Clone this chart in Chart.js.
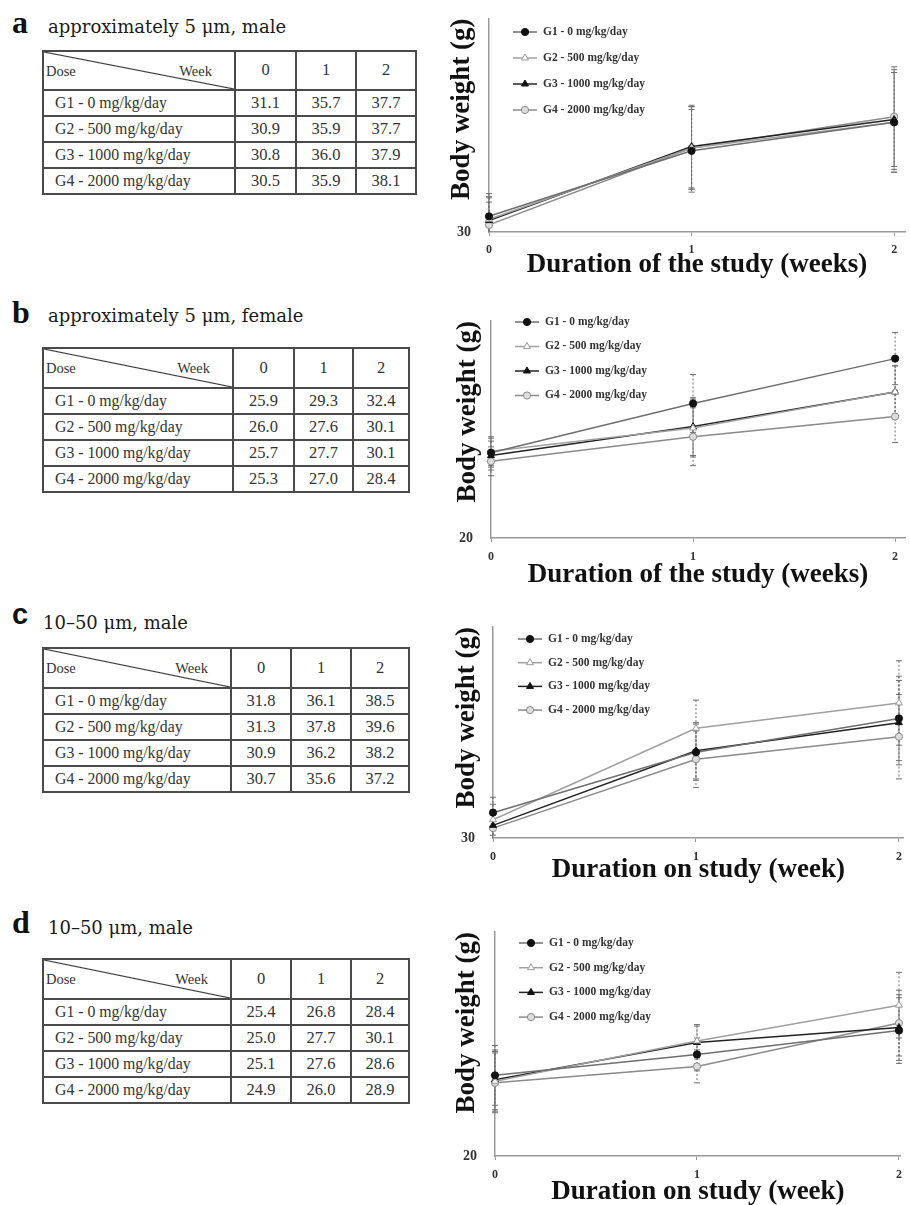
<!DOCTYPE html>
<html><head><meta charset="utf-8">
<script src="https://cdn.jsdelivr.net/npm/chart.js@4.4.1/dist/chart.umd.min.js"></script>
<style>
html,body{margin:0;padding:0;background:#fff;overflow:hidden;}
#page{position:relative;width:910px;height:1205px;overflow:hidden;background:#fff;}
.letter{position:absolute;font-family:'Liberation Serif',serif;font-weight:bold;font-size:32px;line-height:1;color:#111;}
.letter.sans{font-family:'Liberation Sans',sans-serif;font-size:29px;}
.ptitle{position:absolute;font-family:'DejaVu Serif',serif;font-size:18px;line-height:1;color:#1a1a1a;white-space:nowrap;}
table.dt{position:absolute;border-collapse:collapse;font-family:'Liberation Serif',serif;color:#333;table-layout:fixed;}
table.dt td{border:2px solid #4a4a4a;padding:0;text-align:center;font-size:16.5px;line-height:1;}
table.dt td.lab{text-align:left;padding-left:11px;font-size:15.8px;white-space:nowrap;}
table.dt td.hd{position:relative;background:linear-gradient(to top right, transparent calc(50% - 1.1px), #333 50%, transparent calc(50% + 1.1px));}
table.dt td.hd span{position:absolute;top:50%;transform:translateY(-50%);font-size:14.5px;}
table.dt td.hd .dose{left:2px;}
table.dt td.hd .week{right:22px;}
canvas{position:absolute;left:420px;}
</style>
</head><body><div id="page"></div>
<script>
// ---- data ----
const weeks = [0, 1, 2];
const weekLabels = ['0', '1', '2'];
const doseGroups = ['G1 - 0 mg/kg/day', 'G2 - 500 mg/kg/day', 'G3 - 1000 mg/kg/day', 'G4 - 2000 mg/kg/day'];
const panelLetters = ['a', 'b', 'c', 'd'];
const panelTitles = ['approximately 5 \u03bcm, male', 'approximately 5 \u03bcm, female', '10\u201350 \u03bcm, male', '10\u201350 \u03bcm, male'];
const weightsA = [[31.1, 35.7, 37.7], [30.9, 35.9, 37.7], [30.8, 36.0, 37.9], [30.5, 35.9, 38.1]];
const weightsB = [[25.9, 29.3, 32.4], [26.0, 27.6, 30.1], [25.7, 27.7, 30.1], [25.3, 27.0, 28.4]];
const weightsC = [[31.8, 36.1, 38.5], [31.3, 37.8, 39.6], [30.9, 36.2, 38.2], [30.7, 35.6, 37.2]];
const weightsD = [[25.4, 26.8, 28.4], [25.0, 27.7, 30.1], [25.1, 27.6, 28.6], [24.9, 26.0, 28.9]];
const errA = [1.6, 2.9, 3.5];
const errB = [1.0, 2.0, 1.8];
const errC = [1.1, 2.0, 3.0];
const errD = [2.0, 1.1, 2.2];
const yAxisMin = [30, 20, 30, 20];
const yAxisMax = [45, 35, 45, 35];
const yTitle = 'Body weight (g)';
const xTitles = ['Duration of the study (weeks)', 'Duration of the study (weeks)', 'Duration on study (week)', 'Duration on study (week)'];

const weightSets = [weightsA, weightsB, weightsC, weightsD];
const errSets = [errA, errB, errC, errD];

// ---- styles / layout ----
const seriesStyle = [
  {line: '#6f6f6f', shape: 'circle', fill: '#111', stroke: '#111', r: 3.6},
  {line: '#a0a0a0', shape: 'triangle', fill: '#fff', stroke: '#999', r: 4},
  {line: '#222', shape: 'triangle', fill: '#111', stroke: '#111', r: 4},
  {line: '#8a8a8a', shape: 'circle', fill: '#ddd', stroke: '#888', r: 3.6}
];
const layouts = [
  {letter: {x: 12, y: 6}, title: {x: 48, y: 18}, table: {x: 42, y: 50, cols: [192, 61, 60, 60], hh: 39},
   chart: {top: 0, plotTop: 14, plotBottom: 232, plotLeft: 489, week2: 899, xTitleY: 265, xTickY: 250, yTitleX: 462, leg: {x: 513, y: 32, gap: 26}}},
  {letter: {x: 12, y: 296}, title: {x: 48, y: 307}, table: {x: 42, y: 347, cols: [190, 61, 59, 56], hh: 40},
   chart: {top: 290, plotTop: 321, plotBottom: 538, plotLeft: 491, week2: 900, xTitleY: 575, xTickY: 557, yTitleX: 468, leg: {x: 515, y: 322, gap: 24.5}}},
  {letter: {x: 12, y: 600, sans: true}, title: {x: 43, y: 614}, table: {x: 42, y: 647, cols: [188, 60, 60, 58], hh: 40},
   chart: {top: 590, plotTop: 627, plotBottom: 838, plotLeft: 493, week2: 905, xTitleY: 870, xTickY: 857, yTitleX: 467, leg: {x: 518, y: 639, gap: 23.7}}},
  {letter: {x: 12, y: 906}, title: {x: 48, y: 919}, table: {x: 42, y: 958, cols: [188, 60, 60, 58], hh: 40},
   chart: {top: 890, plotTop: 932, plotBottom: 1156, plotLeft: 495, week2: 908, xTitleY: 1192, xTickY: 1175, yTitleX: 467, leg: {x: 519, y: 943, gap: 24.7}}}
];
const SERIF = "'Liberation Serif', 'Times New Roman', serif";
const page = document.getElementById('page');

function buildText(i) {
  const L = layouts[i];
  const le = document.createElement('div');
  le.className = 'letter' + (L.letter.sans ? ' sans' : '');
  le.style.left = L.letter.x + 'px'; le.style.top = L.letter.y + 'px';
  le.textContent = panelLetters[i];
  page.appendChild(le);
  const ti = document.createElement('div');
  ti.className = 'ptitle';
  ti.style.left = L.title.x + 'px'; ti.style.top = L.title.y + 'px';
  ti.textContent = panelTitles[i];
  page.appendChild(ti);
}

function buildTable(i) {
  const L = layouts[i].table;
  const vals = weightSets[i];
  const t = document.createElement('table'); t.className = 'dt';
  t.style.left = L.x + 'px'; t.style.top = L.y + 'px';
  t.style.width = L.cols.reduce((a, b) => a + b, 0) + 'px';
  const cg = document.createElement('colgroup');
  L.cols.forEach(w => { const c = document.createElement('col'); c.style.width = w + 'px'; cg.appendChild(c); });
  t.appendChild(cg);
  const hr = t.insertRow(); hr.style.height = L.hh + 'px';
  const hc = hr.insertCell(); hc.className = 'hd';
  hc.innerHTML = '<span class="dose">Dose</span><span class="week">Week</span>';
  weekLabels.forEach(w => { const c = hr.insertCell(); c.textContent = w; });
  doseGroups.forEach((g, gi) => {
    const r = t.insertRow(); r.style.height = '26px';
    const c0 = r.insertCell(); c0.className = 'lab'; c0.textContent = g;
    vals[gi].forEach(v => { const c = r.insertCell(); c.textContent = v.toFixed(1); });
  });
  page.appendChild(t);
}

function drawMarker(ctx, st, x, y) {
  ctx.save();
  ctx.fillStyle = st.fill; ctx.strokeStyle = st.stroke; ctx.lineWidth = 1;
  ctx.beginPath();
  if (st.shape === 'triangle') {
    const r = st.r;
    ctx.moveTo(x, y - r);
    ctx.lineTo(x + r * 0.87, y + r * 0.5);
    ctx.lineTo(x - r * 0.87, y + r * 0.5);
    ctx.closePath();
  } else {
    ctx.arc(x, y, st.r, 0, Math.PI * 2);
  }
  ctx.fill(); ctx.stroke();
  ctx.restore();
}

const errorBarPlugin = {
  id: 'errorBars',
  beforeDatasetsDraw(chart) {
    const {ctx, chartArea: a, scales: {x, y}} = chart;
    ctx.save();
    ctx.beginPath(); ctx.rect(a.left - 6, a.top, a.right - a.left + 12, a.bottom - a.top); ctx.clip();
    chart.data.datasets.forEach(ds => {
      ds.data.forEach((p, j) => {
        const e = ds.errors[j];
        const px = x.getPixelForValue(p.x);
        const yt = y.getPixelForValue(p.y + e), yb = y.getPixelForValue(p.y - e);
        ctx.strokeStyle = '#707070'; ctx.lineWidth = 1;
        ctx.setLineDash([2, 2]);
        ctx.beginPath(); ctx.moveTo(px, yt); ctx.lineTo(px, yb); ctx.stroke();
        ctx.setLineDash([]);
        ctx.beginPath();
        ctx.moveTo(px - 3, yt); ctx.lineTo(px + 3, yt);
        ctx.moveTo(px - 3, yb); ctx.lineTo(px + 3, yb);
        ctx.stroke();
      });
    });
    ctx.restore();
  }
};

const insideLegendPlugin = {
  id: 'insideLegend',
  afterDatasetsDraw(chart, args, opts) {
    const {ctx} = chart;
    ctx.save();
    chart.data.datasets.forEach((ds, k) => {
      const st = seriesStyle[k];
      const x0 = opts.x, y0 = opts.y + k * opts.gap;
      ctx.strokeStyle = st.line; ctx.lineWidth = 1.5;
      ctx.beginPath(); ctx.moveTo(x0, y0); ctx.lineTo(x0 + 24, y0); ctx.stroke();
      drawMarker(ctx, st, x0 + 12, y0);
      ctx.fillStyle = '#333';
      ctx.font = 'bold 11.5px ' + SERIF;
      ctx.textBaseline = 'middle'; ctx.textAlign = 'left';
      ctx.fillText(ds.label, x0 + 30, y0);
    });
    ctx.restore();
  }
};

function buildChart(i) {
  const L = layouts[i].chart;
  const vals = weightSets[i], errs = errSets[i];
  const titleSize = 27, lh = titleSize * 1.2;
  const h = Math.round(L.xTitleY + lh / 2 - L.top);
  const canvas = document.createElement('canvas');
  canvas.width = 490; canvas.height = h;
  canvas.style.top = L.top + 'px'; canvas.style.width = '490px'; canvas.style.height = h + 'px';
  page.appendChild(canvas);
  const spacing = (L.week2 - L.plotLeft) / 2;
  const xMax = 2 + (910 - L.week2) / spacing;
  const yWidth = L.plotLeft - 420;
  const xHeight = h - (L.plotBottom - L.top);
  const tickLen = 4;
  const tickPad = L.xTickY - 7 - L.plotBottom - tickLen;

  const datasets = doseGroups.map((g, k) => {
    const st = seriesStyle[k];
    return {
      label: g,
      data: weeks.map((w, j) => ({x: w, y: vals[k][j]})),
      errors: errs,
      borderColor: st.line, borderWidth: 1.5,
      pointStyle: st.shape, pointRadius: st.r, pointHoverRadius: st.r,
      pointBackgroundColor: st.fill, pointBorderColor: st.stroke, pointBorderWidth: 1,
      tension: 0, clip: false, fill: false
    };
  });

  new Chart(canvas, {
    type: 'line',
    data: {datasets},
    plugins: [errorBarPlugin, insideLegendPlugin],
    options: {
      responsive: false, animation: false, devicePixelRatio: 1,
      layout: {padding: {top: L.plotTop - L.top, left: 0, right: 0, bottom: 0}},
      plugins: {
        legend: {display: false}, tooltip: {enabled: false},
        insideLegend: {x: L.leg.x - 420, y: L.leg.y - L.top, gap: L.leg.gap}
      },
      scales: {
        x: {
          type: 'linear', min: 0, max: xMax,
          afterBuildTicks: s => { s.ticks = weeks.map(v => ({value: v})); },
          afterFit: s => { s.height = xHeight; },
          grid: {display: true, drawOnChartArea: false, drawTicks: true, tickLength: tickLen, color: '#999'},
          border: {display: true, color: '#999', width: 1.5},
          ticks: {color: '#333', padding: tickPad, maxRotation: 0, autoSkip: false,
                  font: {family: SERIF, size: 12, weight: 'bold'}, callback: v => weekLabels[weeks.indexOf(v)]},
          title: {display: true, text: xTitles[i], color: '#111', padding: {top: 0, bottom: 0},
                  font: {family: SERIF, size: titleSize, weight: 'bold'}}
        },
        y: {
          min: yAxisMin[i], max: yAxisMax[i],
          afterBuildTicks: s => { s.ticks = [{value: yAxisMin[i]}]; },
          afterFit: s => { s.width = yWidth; },
          grid: {display: false},
          border: {display: true, color: '#999', width: 1.5},
          ticks: {color: '#333', padding: 10, font: {family: SERIF, size: 14, weight: 'bold'}},
          title: {display: true, text: yTitle, color: '#111', align: 'end',
                  padding: {top: L.yTitleX - 420 - lh / 2, bottom: 0},
                  font: {family: SERIF, size: titleSize, weight: 'bold'}}
        }
      }
    }
  });
}

for (let i = 0; i < 4; i++) { buildText(i); buildTable(i); buildChart(i); }
</script>
</body></html>
